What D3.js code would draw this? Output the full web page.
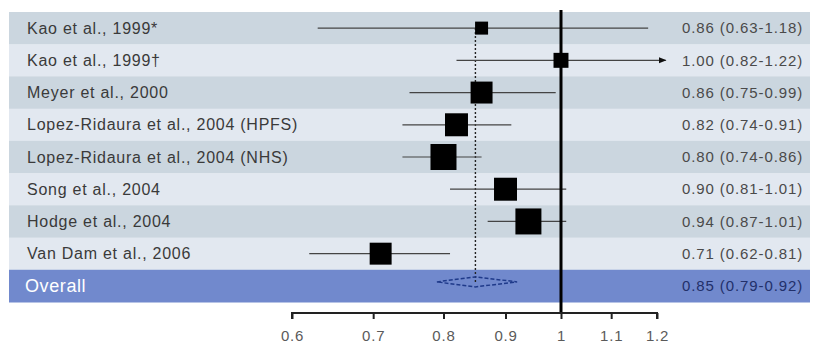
<!DOCTYPE html>
<html>
<head>
<meta charset="utf-8">
<script src="https://cdn.jsdelivr.net/npm/d3@7"></script>
<style>
  body { margin: 0; background: #fff; }
  svg { display: block; font-family: "Liberation Sans", Arial, sans-serif; }
</style>
</head>
<body>
<svg id="chart"></svg>
<script>
// study data
const studies = [
    'Kao et al., 1999*', 'Kao et al., 1999\u2020', 'Meyer et al., 2000',
    'Lopez-Ridaura et al., 2004 (HPFS)', 'Lopez-Ridaura et al., 2004 (NHS)',
    'Song et al., 2004', 'Hodge et al., 2004', 'Van Dam et al., 2006'
];
const rr    = [0.86, 1.00, 0.86, 0.82, 0.80, 0.90, 0.94, 0.71];
const lower = [0.63, 0.82, 0.75, 0.74, 0.74, 0.81, 0.87, 0.62];
const upper = [1.18, 1.22, 0.99, 0.91, 0.86, 1.01, 1.01, 0.81];
const weights = [4.0, 5.3, 11.4, 12.5, 16.0, 12.5, 16.0, 11.4];
const overall = { label: 'Overall', rr: 0.85, lower: 0.79, upper: 0.92 };
const tickValues = [0.6, 0.7, 0.8, 0.9, 1, 1.1, 1.2];

const width = 814, height = 347;
const fmt = d3.format('.2f');

const svg = d3.select('#chart').attr('width', width).attr('height', height);

const rows = studies.concat([overall.label]);
const y = d3.scaleBand().domain(rows).range([12, 302]);
const x = d3.scaleLog().domain([0.6, 1.2]).range([292, 657]);
const size = d3.scaleSqrt().domain([0, 16]).range([0, 26]);

// row backgrounds
svg.append('g').selectAll('rect')
    .data(rows)
    .join('rect')
    .attr('x', 9)
    .attr('y', d => y(d))
    .attr('width', 801)
    .attr('height', y.bandwidth() + 0.5)
    .attr('fill', (d, i) => d === overall.label ? '#7189cd' : (i % 2 === 0 ? '#cbd6df' : '#e2e8f0'));

// arrow marker
svg.append('defs').append('marker')
    .attr('id', 'arrow')
    .attr('viewBox', '0 0 10 10')
    .attr('refX', 9).attr('refY', 5)
    .attr('markerWidth', 8).attr('markerHeight', 8)
    .attr('markerUnits', 'userSpaceOnUse')
    .attr('orient', 'auto')
    .append('path')
    .attr('d', 'M0,1L10,5L0,9Z')
    .attr('fill', '#111');

const data = studies.map((s, i) => ({ name: s, rr: rr[i], lo: lower[i], hi: upper[i], w: weights[i] }));

// dotted line at overall estimate
svg.append('line')
    .attr('x1', x(overall.rr)).attr('x2', x(overall.rr))
    .attr('y1', y(studies[0]) + y.bandwidth() / 2)
    .attr('y2', y(overall.label) + y.bandwidth() / 2 - 4)
    .attr('stroke', '#222')
    .attr('stroke-width', 1.4)
    .attr('stroke-dasharray', '2,2');

// confidence intervals
svg.append('g').selectAll('line')
    .data(data)
    .join('line')
    .attr('x1', d => x(d.lo))
    .attr('x2', d => x(d.hi))
    .attr('y1', d => y(d.name) + y.bandwidth() / 2)
    .attr('y2', d => y(d.name) + y.bandwidth() / 2)
    .attr('stroke', '#444')
    .attr('stroke-width', 1.2)
    .attr('marker-end', d => d.hi > 1.2 ? 'url(#arrow)' : null);

// weighted squares
svg.append('g').selectAll('rect')
    .data(data)
    .join('rect')
    .attr('x', d => x(d.rr) - size(d.w) / 2)
    .attr('y', d => y(d.name) + y.bandwidth() / 2 - size(d.w) / 2)
    .attr('width', d => size(d.w))
    .attr('height', d => size(d.w))
    .attr('fill', '#000');

// overall diamond
const cy = y(overall.label) + y.bandwidth() / 2 - 4;
svg.append('path')
    .attr('d', `M${x(overall.lower)},${cy}L${x(overall.rr)},${cy - 5}L${x(overall.upper)},${cy}L${x(overall.rr)},${cy + 5}Z`)
    .attr('fill', 'none')
    .attr('stroke', '#1f3a8a')
    .attr('stroke-width', 1.5)
    .attr('stroke-dasharray', '4,2');

// line of no effect
svg.append('line')
    .attr('x1', x(1)).attr('x2', x(1))
    .attr('y1', 10).attr('y2', 314)
    .attr('stroke', '#000')
    .attr('stroke-width', 3);

// labels
svg.append('g').selectAll('text')
    .data(rows)
    .join('text')
    .attr('x', d => d === overall.label ? 25 : 27)
    .attr('y', d => y(d) + y.bandwidth() / 2)
    .attr('dy', '0.35em')
    .attr('fill', d => d === overall.label ? '#fff' : '#3a3a3a')
    .style('font-size', d => d === overall.label ? '18px' : '16px')
    .style('letter-spacing', d => d === overall.label ? '0.6px' : '0.75px')
    .text(d => d);

const estimates = data.concat([{ name: overall.label, rr: overall.rr, lo: overall.lower, hi: overall.upper }]);
svg.append('g').selectAll('text')
    .data(estimates)
    .join('text')
    .attr('x', 682)
    .attr('y', d => y(d.name) + y.bandwidth() / 2)
    .attr('dy', '0.35em')
    .attr('fill', d => d.name === overall.label ? '#22306a' : '#4a4a4a')
    .style('font-size', '15px')
    .style('letter-spacing', '0.9px')
    .text(d => `${fmt(d.rr)} (${fmt(d.lo)}-${fmt(d.hi)})`);

// x axis
const xAxis = d3.axisBottom(x)
    .tickValues(tickValues)
    .tickFormat(d3.format(''))
    .tickSize(6)
    .tickPadding(11);
const axisG = svg.append('g')
    .attr('transform', 'translate(0, 313)')
    .call(xAxis);
axisG.select('.domain').attr('stroke', '#222').attr('stroke-width', 2).attr('d', `M${x(0.6)},6V0H${x(1.2)}V6`);
axisG.selectAll('.tick line').attr('stroke', '#222').attr('stroke-width', 2);
axisG.selectAll('.tick text')
    .attr('fill', '#5a5a5a')
    .style('font-size', '15px')
    .style('letter-spacing', '0.8px')
    .style('font-family', '"Liberation Sans", Arial, sans-serif');
</script>
</body>
</html>
